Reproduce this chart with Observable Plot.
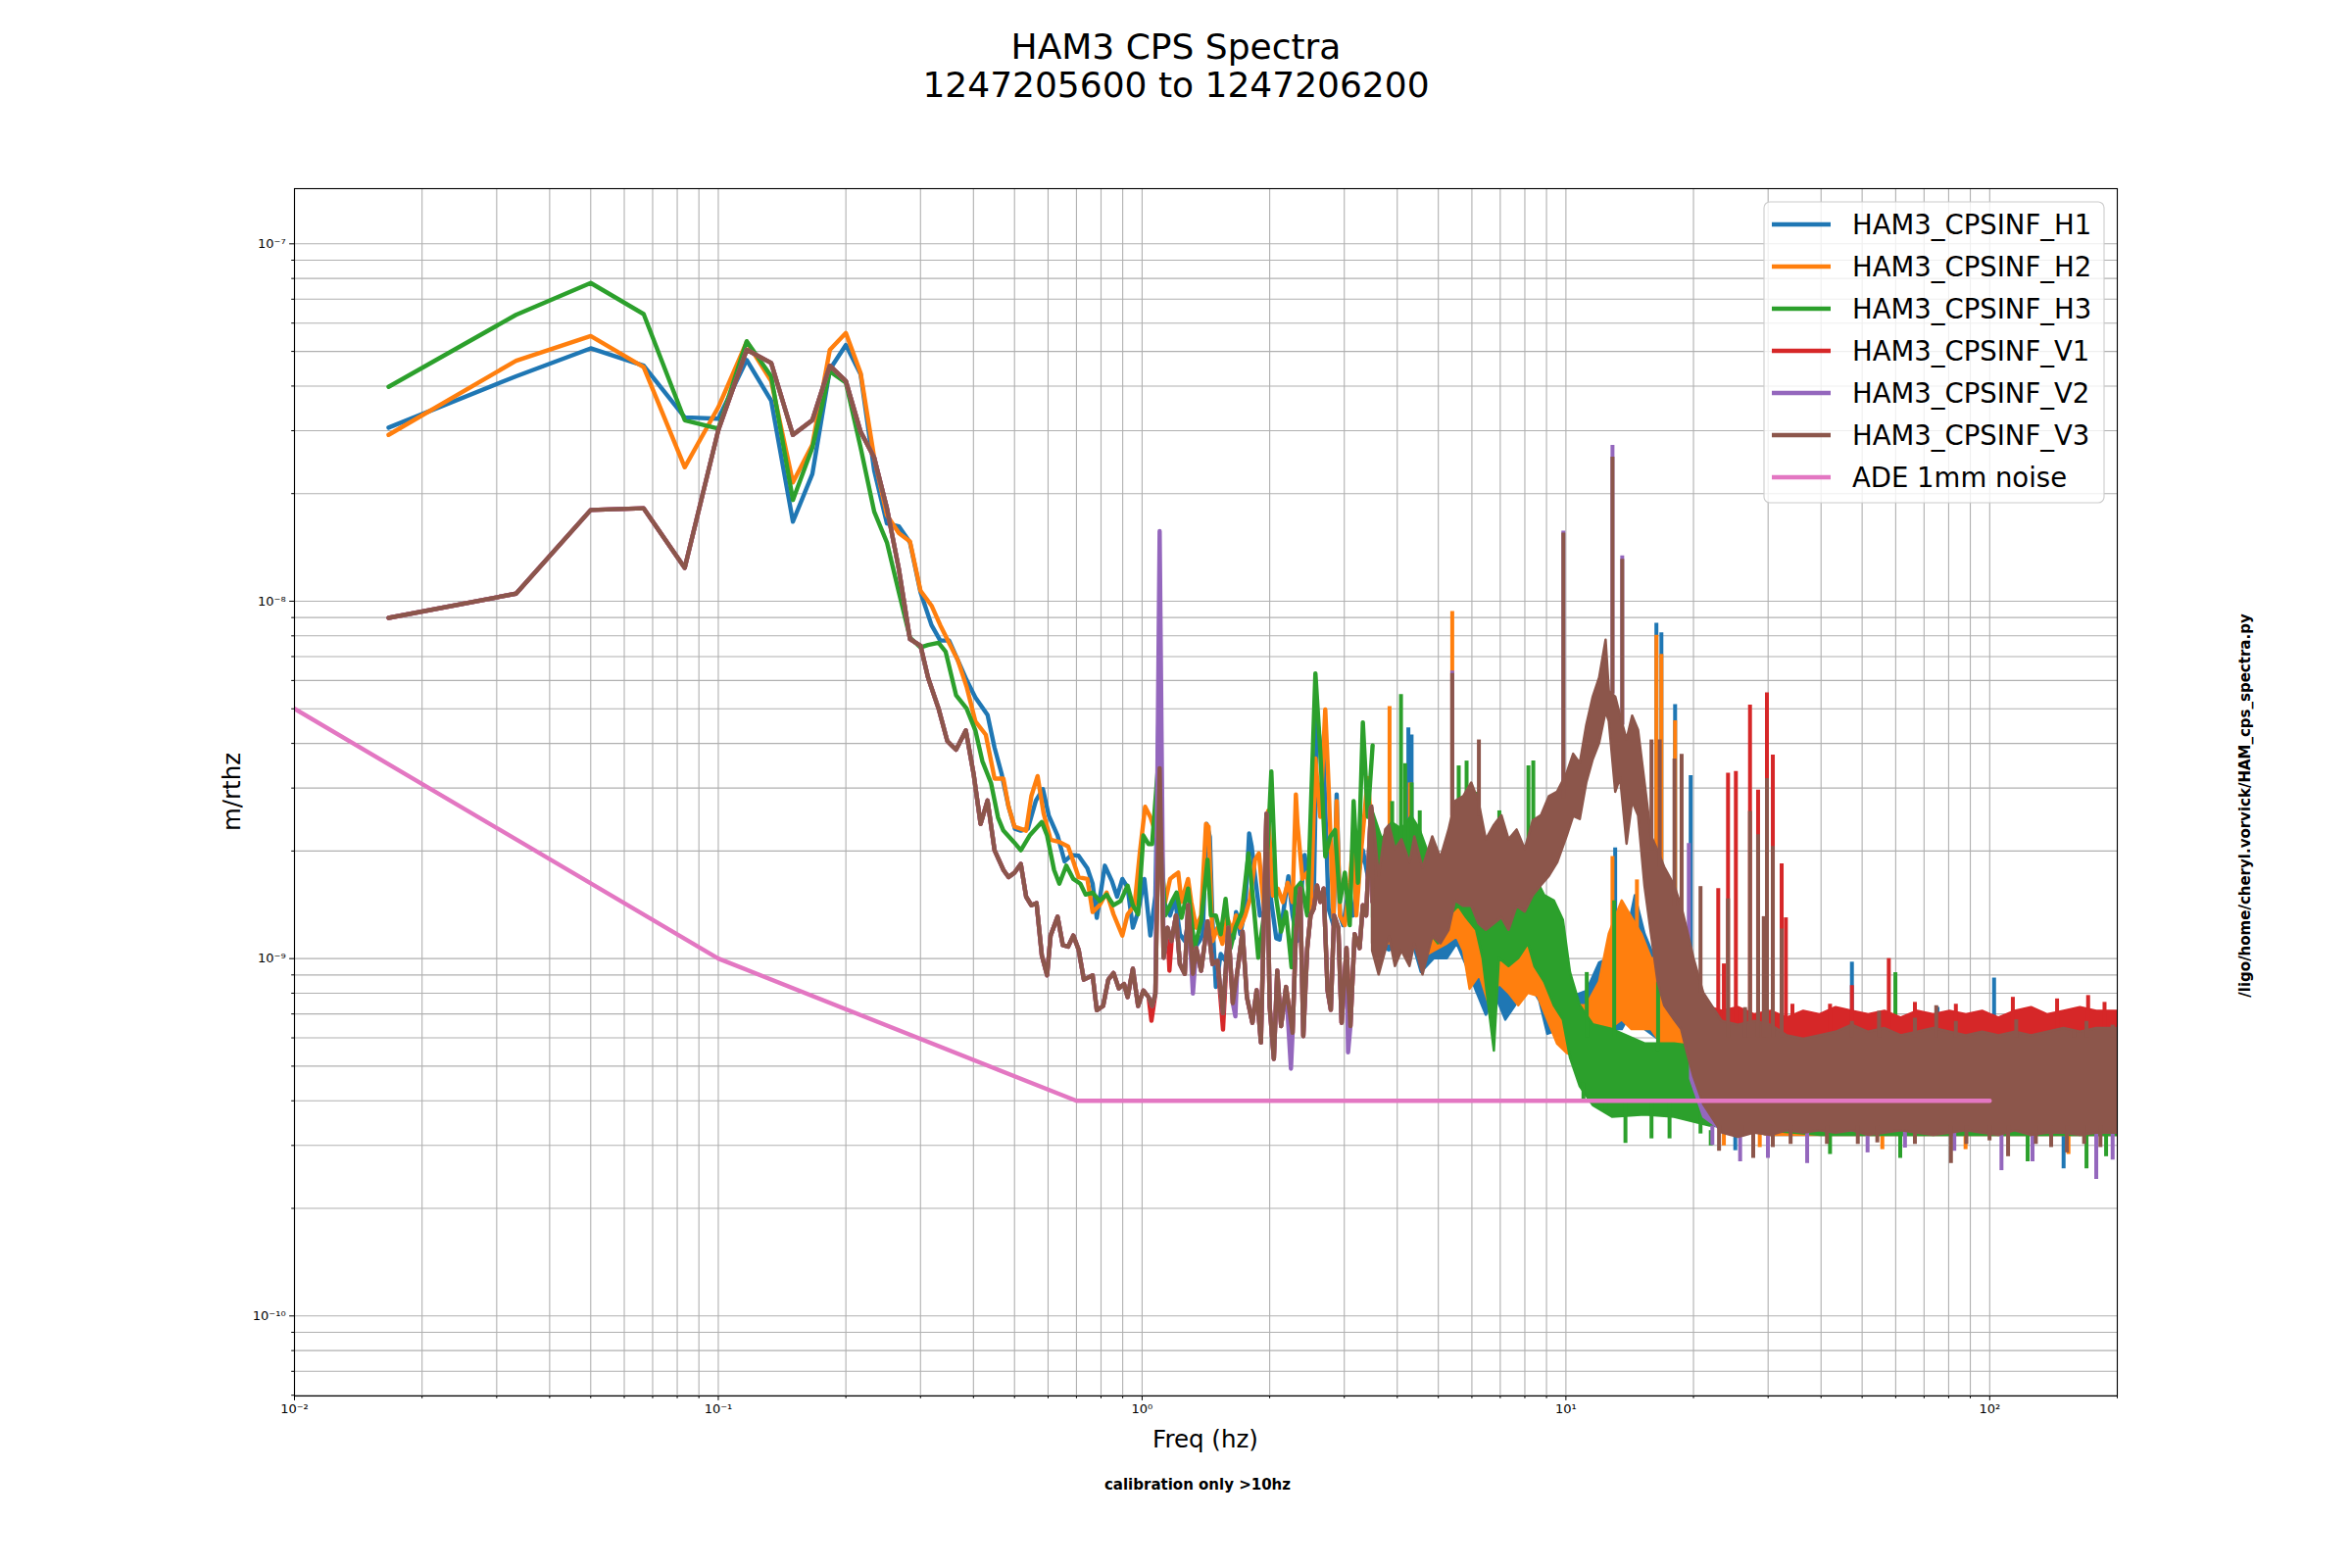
<!DOCTYPE html>
<html><head><meta charset="utf-8">
<script src="https://cdn.jsdelivr.net/npm/d3@7"></script>
<script src="https://cdn.jsdelivr.net/npm/@observablehq/plot@0.6"></script>
<style>
html,body{margin:0;padding:0;background:#fff;}
#wrap{position:relative;width:2400px;height:1600px;font-family:"DejaVu Sans",sans-serif;}
#wrap svg{position:absolute;left:0;top:0;}
</style></head><body><div id="wrap"></div>
<script>
// ---------- DATA ----------
const titleLines = ["HAM3 CPS Spectra", "1247205600 to 1247206200"];
const seriesNames = ["HAM3_CPSINF_H1","HAM3_CPSINF_H2","HAM3_CPSINF_H3","HAM3_CPSINF_V1","HAM3_CPSINF_V2","HAM3_CPSINF_V3","ADE 1mm noise"];
const seriesColors = ["#1f77b4","#ff7f0e","#2ca02c","#d62728","#9467bd","#8c564b","#e377c2"];
const xMajorTicks = [0.01, 0.1, 1, 10, 100];
const yMajorTicks = [1e-10, 1e-9, 1e-8, 1e-7];

// low-frequency bins (1/60 Hz resolution)
const fLow = [0.01667,0.03333,0.05,0.06667,0.08333,0.1,0.1167,0.1333,0.15,0.1667,0.1833,0.2,0.2167,0.2333,0.25,0.2667,0.2833,0.3];
const h1Low = [3.06e-8,4.26e-8,5.10e-8,4.56e-8,3.27e-8,3.24e-8,4.73e-8,3.64e-8,1.67e-8,2.27e-8,4.45e-8,5.21e-8,4.31e-8,2.32e-8,1.65e-8,1.62e-8,1.46e-8,1.06e-8];
const h2Low = [2.92e-8,4.71e-8,5.52e-8,4.52e-8,2.37e-8,3.49e-8,5.32e-8,4.13e-8,2.15e-8,2.74e-8,5.05e-8,5.63e-8,4.35e-8,2.52e-8,1.74e-8,1.55e-8,1.47e-8,1.07e-8];
const h3Low = [3.98e-8,6.33e-8,7.77e-8,6.36e-8,3.21e-8,3.04e-8,5.34e-8,4.26e-8,1.92e-8,2.69e-8,4.40e-8,4.09e-8,2.69e-8,1.78e-8,1.46e-8,1.06e-8,7.91e-9,7.43e-9];
const vLow  = [8.98e-9,1.05e-8,1.80e-8,1.82e-8,1.24e-8,3.01e-8,5.05e-8,4.64e-8,2.92e-8,3.21e-8,4.56e-8,4.13e-8,2.98e-8,2.52e-8,1.82e-8,1.23e-8,7.83e-9,7.51e-9];

// resolved part 0.3 - 3.5 Hz  [freq, value]
const h1Mid = [[0.3185,8.57e-9],[0.334,7.76e-9],[0.3504,7.76e-9],[0.3674,6.84e-9],[0.3853,6.02e-9],[0.4042,5.38e-9],[0.4318,4.81e-9],[0.4486,3.89e-9],[0.4661,3.29e-9],[0.4841,2.66e-9],[0.501,2.31e-9],[0.5174,2.28e-9],[0.5375,2.31e-9],[0.5616,2.77e-9],[0.5834,2.98e-9],[0.6025,2.51e-9],[0.6318,2.21e-9],[0.6563,1.87e-9],[0.6818,1.95e-9],[0.7082,1.94e-9],[0.7427,1.79e-9],[0.7643,1.62e-9],[0.7818,1.30e-9],[0.8168,1.82e-9],[0.8484,1.65e-9],[0.873,1.49e-9],[0.8982,1.67e-9],[0.9243,1.58e-9],[0.9511,1.22e-9],[0.9784,1.35e-9],[1.0125,1.67e-9],[1.0457,1.16e-9],[1.075,1.5e-9],[1.1,6.74e-9],[1.117,1.6e-9],[1.134,1.41e-9],[1.164,1.32e-9],[1.196,1.47e-9],[1.228,1.17e-9],[1.261,1.12e-9],[1.295,1.32e-9],[1.33,1.07e-9],[1.366,1.12e-9],[1.39,1.17e-9],[1.42,2.38e-9],[1.445,2.19e-9],[1.466,1.27e-9],[1.493,8.33e-10],[1.533,1.03e-9],[1.574,9.86e-10],[1.617,1.22e-9],[1.645,1.14e-9],[1.666,1.35e-9],[1.705,1.17e-9],[1.751,1.38e-9],[1.789,2.24e-9],[1.814,2.06e-9],[1.847,1.70e-9],[1.897,1.32e-9],[1.941,1.35e-9],[1.983,1.89e-9],[2.018,1.44e-9],[2.073,1.14e-9],[2.11,1.13e-9],[2.148,1.32e-9],[2.214,1.70e-9],[2.265,1.32e-9],[2.326,1.12e-9],[2.389,1.67e-9],[2.418,1.95e-9],[2.453,1.74e-9],[2.497,1.35e-9],[2.541,1.47e-9],[2.587,4.68e-9],[2.633,3.95e-9],[2.681,3.63e-9],[2.754,1.38e-9],[2.828,1.24e-9],[2.878,2.88e-9],[2.93,1.32e-9],[2.982,1.24e-9],[3.062,1.53e-9],[3.145,1.32e-9],[3.231,1.70e-9],[3.318,2.01e-9],[3.408,1.70e-9],[3.499,2.06e-9]];
const h2Mid = [[0.3185,9.72e-9],[0.334,8.57e-9],[0.3504,7.65e-9],[0.3674,6.84e-9],[0.3853,5.77e-9],[0.4042,4.61e-9],[0.4278,4.23e-9],[0.4486,3.19e-9],[0.4707,3.19e-9],[0.4841,2.66e-9],[0.5,2.34e-9],[0.5325,2.28e-9],[0.5479,2.85e-9],[0.5668,3.24e-9],[0.5855,2.55e-9],[0.6083,2.15e-9],[0.6378,2.12e-9],[0.6689,2.06e-9],[0.6882,1.87e-9],[0.7082,1.69e-9],[0.7427,1.67e-9],[0.7643,1.35e-9],[0.7937,1.41e-9],[0.8247,1.53e-9],[0.8563,1.33e-9],[0.8982,1.16e-9],[0.9243,1.33e-9],[0.96,1.41e-9],[0.9878,1.98e-9],[1.0165,2.66e-9],[1.046,2.49e-9],[1.084,2.19e-9],[1.1,3.2e-9],[1.117,1.7e-9],[1.134,1.44e-9],[1.164,1.67e-9],[1.185,1.70e-9],[1.217,1.74e-9],[1.239,1.44e-9],[1.284,1.67e-9],[1.306,1.44e-9],[1.342,1.22e-9],[1.378,1.32e-9],[1.415,2.38e-9],[1.435,2.34e-9],[1.466,1.12e-9],[1.506,1.22e-9],[1.547,1.10e-9],[1.588,1.30e-9],[1.631,1.19e-9],[1.666,1.32e-9],[1.705,1.22e-9],[1.751,1.32e-9],[1.798,1.47e-9],[1.847,1.89e-9],[1.887,1.97e-9],[1.913,1.63e-9],[1.948,1.32e-9],[1.983,2.59e-9],[2.035,1.50e-9],[2.091,1.57e-9],[2.148,1.44e-9],[2.206,1.63e-9],[2.265,1.44e-9],[2.306,2.88e-9],[2.326,2.38e-9],[2.389,1.67e-9],[2.453,1.74e-9],[2.497,1.32e-9],[2.564,3.63e-9],[2.633,2.49e-9],[2.705,4.98e-9],[2.754,3.07e-9],[2.828,1.30e-9],[2.878,2.76e-9],[2.93,1.32e-9],[3.009,1.24e-9],[3.09,1.63e-9],[3.145,2.10e-9],[3.202,1.32e-9],[3.289,2.01e-9],[3.408,3.20e-9],[3.499,2.10e-9]];
const h3Mid = [[0.3126,7.54e-9],[0.3309,7.65e-9],[0.3438,7.23e-9],[0.3639,5.46e-9],[0.3853,5.01e-9],[0.4042,4.35e-9],[0.4198,3.57e-9],[0.4401,3.10e-9],[0.4572,2.48e-9],[0.4707,2.28e-9],[0.4981,2.12e-9],[0.5174,2.01e-9],[0.5428,2.21e-9],[0.58,2.41e-9],[0.5968,2.21e-9],[0.6199,1.77e-9],[0.6378,1.62e-9],[0.6625,1.82e-9],[0.6882,1.67e-9],[0.715,1.62e-9],[0.7357,1.51e-9],[0.7643,1.53e-9],[0.7937,1.45e-9],[0.8247,1.51e-9],[0.8563,1.41e-9],[0.8897,1.45e-9],[0.9243,1.60e-9],[0.9511,1.41e-9],[0.9784,1.33e-9],[1.0068,2.21e-9],[1.0359,2.09e-9],[1.0558,2.09e-9],[1.1,3.95e-9],[1.117,1.8e-9],[1.134,1.32e-9],[1.174,1.44e-9],[1.206,1.53e-9],[1.239,1.30e-9],[1.284,1.57e-9],[1.33,1.07e-9],[1.378,1.27e-9],[1.427,1.89e-9],[1.453,1.32e-9],[1.493,1.32e-9],[1.533,1.17e-9],[1.574,1.47e-9],[1.617,1.07e-9],[1.66,1.22e-9],[1.72,1.35e-9],[1.782,1.97e-9],[1.83,1.44e-9],[1.88,1.006e-9],[1.948,1.38e-9],[2.018,3.34e-9],[2.073,1.47e-9],[2.128,1.19e-9],[2.186,1.35e-9],[2.253,9.45e-10],[2.306,1.57e-9],[2.368,1.63e-9],[2.453,1.32e-9],[2.564,6.28e-9],[2.633,3.79e-9],[2.705,1.93e-9],[2.778,2.19e-9],[2.853,2.29e-9],[2.93,1.44e-9],[3.009,1.74e-9],[3.09,1.24e-9],[3.156,2.76e-9],[3.231,1.63e-9],[3.318,4.58e-9],[3.408,2.49e-9],[3.499,3.95e-9]];
const v3Mid = [[0.3126,6.11e-9],[0.3309,5.01e-9],[0.3471,4.06e-9],[0.3639,3.84e-9],[0.3838,4.35e-9],[0.4003,3.29e-9],[0.4158,2.38e-9],[0.4318,2.77e-9],[0.4486,2.01e-9],[0.4707,1.77e-9],[0.4841,1.69e-9],[0.5,1.74e-9],[0.5174,1.84e-9],[0.5325,1.49e-9],[0.5479,1.41e-9],[0.5636,1.43e-9],[0.58,1.02e-9],[0.5968,8.98e-10],[0.6083,1.16e-9],[0.6318,1.31e-9],[0.6501,1.09e-9],[0.6689,1.08e-9],[0.6882,1.16e-9],[0.7082,1.06e-9],[0.7287,8.73e-10],[0.7643,8.98e-10],[0.7818,7.17e-10],[0.8091,7.37e-10],[0.8323,8.73e-10],[0.8563,9.11e-10],[0.8812,8.25e-10],[0.9067,8.49e-10],[0.9243,7.80e-10],[0.9511,9.37e-10],[0.9784,7.37e-10],[1.0068,8.14e-10],[1.0359,7.80e-10],[1.0558,7.37e-10],[1.075,7.98e-10],[1.1,3.41e-9],[1.124,1.006e-9],[1.148,1.22e-9],[1.174,1.12e-9],[1.202,1.32e-9],[1.228,9.65e-10],[1.261,9.06e-10],[1.284,1.41e-9],[1.318,9.06e-10],[1.342,1.07e-9],[1.378,9.25e-10],[1.427,1.27e-9],[1.466,9.65e-10],[1.506,9.86e-10],[1.552,7.04e-10],[1.597,1.22e-9],[1.637,7.50e-10],[1.675,9.06e-10],[1.726,1.19e-9],[1.767,7.81e-10],[1.821,6.61e-10],[1.863,8.15e-10],[1.907,5.82e-10],[1.965,2.54e-9],[2.0,7.34e-10],[2.046,5.24e-10],[2.084,9.25e-10],[2.128,6.47e-10],[2.186,8.33e-10],[2.265,6.20e-10],[2.306,1.17e-9],[2.36,1.57e-9],[2.401,6.07e-10],[2.453,1.07e-9],[2.497,1.32e-9],[2.541,1.38e-9],[2.587,1.60e-9],[2.633,1.44e-9],[2.681,1.57e-9],[2.739,8.15e-10],[2.788,7.19e-10],[2.838,1.32e-9],[2.904,1.22e-9],[2.956,6.61e-10],[3.036,1.07e-9],[3.101,6.47e-10],[3.173,1.17e-9],[3.26,1.07e-9],[3.318,1.41e-9],[3.378,1.32e-9],[3.469,2.65e-9],[3.499,1.44e-9]];
// where V1 / V2 differ from V3 in the resolved part
const v1Mods = [[1.052,6.7e-10],[1.1,3.78e-9],[1.16,9.25e-10],[1.552,6.33e-10]];
const v2Mods = [[1.1,1.57e-8],[1.318,7.98e-10],[1.66,6.89e-10],[2.245,4.92e-10],[3.062,5.47e-10]];

// dense (unresolved) part: [freq, lower envelope, upper envelope]
const h1Band = [[3.499,1.1e-9,2.06e-9],[3.836,1.05e-9,2.0e-9],[4.103,1.2e-9,2.0e-9],[4.263,1.2e-9,2.2e-9],[4.559,9.14e-10,1.85e-9],[4.894,1.0e-9,1.8e-9],[5.252,1.0e-9,1.59e-9],[5.537,1.1e-9,1.59e-9],[5.839,9.5e-10,1.36e-9],[6.156,8.09e-10,1.0e-9],[6.49,6.94e-10,1.0e-9],[6.843,7.84e-10,1.06e-9],[7.213,6.73e-10,1.06e-9],[7.604,7.38e-10,1.0e-9],[8.158,8.6e-10,1.0e-9],[8.678,7.6e-10,1.0e-9],[9.065,6.14e-10,8.6e-10],[9.725,6.33e-10,8.6e-10],[10.43,5.77e-10,7.84e-10],[11.2,6.33e-10,8.09e-10],[12.01,6.73e-10,9.72e-10],[12.66,6.33e-10,1.0e-9],[13.58,6.33e-10,1.0e-9],[14.58,7.38e-10,1.5e-9],[15.37,6.33e-10,1.17e-9],[17.1,5.77e-10,8.6e-10],[18.28,5.43e-10,8.6e-10],[20.05,4.0e-10,6.73e-10],[21.15,3.6e-10,6.0e-10],[30,3.2e-10,5.5e-10],[60,3.2e-10,5.5e-10],[100,3.2e-10,5.5e-10],[200,3.2e-10,5.5e-10]];
const h2Band = [[3.499,1.1e-9,2.1e-9],[3.836,1.1e-9,2.0e-9],[4.103,1.2e-9,2.0e-9],[4.286,1.2e-9,2.2e-9],[4.559,1.0e-9,1.69e-9],[4.894,1.05e-9,1.8e-9],[5.252,1.1e-9,1.79e-9],[5.537,1.15e-9,1.85e-9],[5.74,1.05e-9,1.79e-9],[5.942,8.21e-10,1.59e-9],[6.266,9.0e-10,1.36e-9],[6.607,7.38e-10,1.17e-9],[6.965,8.5e-10,1.24e-9],[7.342,8.0e-10,1.17e-9],[7.739,7.38e-10,1.36e-9],[8.158,8.0e-10,1.24e-9],[8.6,7.84e-10,1.36e-9],[9.065,6.73e-10,1.0e-9],[9.556,5.77e-10,1.0e-9],[10.07,5.43e-10,8.6e-10],[10.62,5.27e-10,7.38e-10],[11.2,5.77e-10,7.38e-10],[12.01,5.95e-10,8.6e-10],[12.66,6.33e-10,1.17e-9],[13.58,6.73e-10,1.45e-9],[14.32,6.33e-10,1.3e-9],[15.1,6.33e-10,1.17e-9],[15.92,6.33e-10,1.0e-9],[17.1,5.6e-10,1.0e-9],[18.28,5.43e-10,1.0e-9],[19.7,4.38e-10,7.38e-10],[21.15,3.6e-10,6.0e-10],[30,3.2e-10,5.5e-10],[60,3.2e-10,5.5e-10],[100,3.2e-10,5.5e-10],[200,3.2e-10,5.5e-10]];
const h3Band = [[3.499,1.3e-9,2.6e-9],[3.69,1.2e-9,2.15e-9],[3.891,1.3e-9,2.4e-9],[4.103,1.3e-9,2.3e-9],[4.324,1.3e-9,2.5e-9],[4.52,1.25e-9,2.3e-9],[4.72,1.2e-9,2.0e-9],[5.0,1.1e-9,1.85e-9],[5.25,1.3e-9,2.1e-9],[5.586,1.4e-9,2.4e-9],[5.83,1.3e-9,2.4e-9],[6.156,1.2e-9,2.2e-9],[6.377,1.0e-9,1.7e-9],[6.78,5.51e-10,1.5e-9],[6.965,1.0e-9,2.0e-9],[7.342,9.5e-10,1.6e-9],[7.739,1.0e-9,1.8e-9],[8.158,1.1e-9,1.7e-9],[8.45,9.5e-10,1.7e-9],[8.907,8.6e-10,1.5e-9],[9.389,7.38e-10,1.45e-9],[9.862,6.73e-10,1.28e-9],[10.25,5.27e-10,9.14e-10],[10.81,4.38e-10,7.38e-10],[11.6,3.88e-10,6.53e-10],[12.88,3.6e-10,6.33e-10],[15.37,3.65e-10,5.77e-10],[18.04,3.6e-10,5.77e-10],[21.9,3.4e-10,5.6e-10],[40,3.2e-10,5.5e-10],[80,3.2e-10,5.5e-10],[200,3.2e-10,5.5e-10]];
const v1Band = [[19.7,5.5e-10,8.0e-10],[21.15,4.5e-10,7.4e-10],[23.37,4.2e-10,7.12e-10],[25.53,4.2e-10,7.29e-10],[27.9,4.2e-10,6.96e-10],[30.48,4.2e-10,7.12e-10],[33.3,4.2e-10,6.81e-10],[36.4,4.2e-10,7.12e-10],[39.7,4.2e-10,6.96e-10],[43.4,4.2e-10,7.29e-10],[47.4,4.2e-10,7.12e-10],[51.8,4.2e-10,6.96e-10],[56.6,4.2e-10,7.12e-10],[61.8,4.2e-10,6.81e-10],[67.6,4.2e-10,7.12e-10],[73.8,4.2e-10,6.96e-10],[80.6,4.2e-10,7.12e-10],[88.1,4.2e-10,6.96e-10],[96.2,4.2e-10,7.12e-10],[105.1,4.2e-10,6.81e-10],[114.9,4.2e-10,7.12e-10],[125.5,4.2e-10,7.29e-10],[137.1,4.2e-10,6.96e-10],[149.8,4.2e-10,7.12e-10],[163.7,4.2e-10,7.29e-10],[178.8,4.2e-10,7.12e-10],[200,4.2e-10,7.12e-10]];
const v2Band = [[19.7,4.6e-10,9.0e-10],[21.15,3.6e-10,7.0e-10],[23.37,3.3e-10,6.0e-10],[27.9,3.35e-10,5.9e-10],[33.3,3.3e-10,5.8e-10],[39.7,3.35e-10,5.9e-10],[47.4,3.3e-10,5.9e-10],[56.6,3.35e-10,5.8e-10],[67.6,3.3e-10,5.9e-10],[80.6,3.35e-10,5.8e-10],[96.2,3.3e-10,5.9e-10],[114.9,3.35e-10,5.8e-10],[137.1,3.3e-10,5.9e-10],[163.7,3.35e-10,5.8e-10],[200,3.3e-10,5.9e-10]];
const v3Band = [[3.499,1.05e-9,2.67e-9],[3.625,9.0e-10,1.7e-9],[3.756,1.05e-9,2.29e-9],[3.836,1.15e-9,2.36e-9],[3.96,9.5e-10,2.02e-9],[4.103,1.05e-9,2.15e-9],[4.286,9.5e-10,1.85e-9],[4.401,1.1e-9,2.19e-9],[4.6,9.0e-10,1.79e-9],[4.851,1.15e-9,2.19e-9],[5.07,1.1e-9,1.91e-9],[5.3,1.2e-9,2.29e-9],[5.49,1.45e-9,2.75e-9],[5.74,1.4e-9,2.84e-9],[5.995,1.4e-9,3.10e-9],[6.233,1.25e-9,2.75e-9],[6.49,1.2e-9,2.15e-9],[6.78,1.25e-9,2.36e-9],[7.064,1.3e-9,2.51e-9],[7.342,1.2e-9,2.15e-9],[7.671,1.4e-9,2.29e-9],[8.016,1.35e-9,2.02e-9],[8.376,1.5e-9,2.43e-9],[8.754,1.6e-9,2.51e-9],[9.145,1.7e-9,2.84e-9],[9.556,1.85e-9,2.92e-9],[10.07,2.2e-9,3.30e-9],[10.43,2.5e-9,3.73e-9],[10.81,2.45e-9,3.51e-9],[11.2,3.1e-9,4.49e-9],[11.6,3.6e-9,5.39e-9],[12.01,4.0e-9,6.09e-9],[12.44,4.9e-9,7.78e-9],[12.66,4.6e-9,5.6e-9],[13.11,2.92e-9,5.39e-9],[13.46,3.20e-9,4.77e-9],[13.94,2.09e-9,4.09e-9],[14.37,2.75e-9,4.77e-9],[14.84,2.51e-9,4.35e-9],[15.37,1.59e-9,3.10e-9],[15.92,1.17e-9,2.2e-9],[16.5,8.6e-10,2.0e-9],[17.1,7.38e-10,1.8e-9],[18.04,6.73e-10,1.6e-9],[18.75,6.33e-10,1.4e-9],[19.36,5.43e-10,1.2e-9],[20.05,4.66e-10,1.0e-9],[21.15,3.9e-10,8.0e-10],[23.37,3.25e-10,6.67e-10],[25.53,3.16e-10,6.51e-10],[27.9,3.25e-10,6.67e-10],[30.48,3.2e-10,6.51e-10],[33.3,3.3e-10,6.08e-10],[36.4,3.25e-10,5.95e-10],[39.7,3.3e-10,6.08e-10],[43.4,3.25e-10,6.22e-10],[47.4,3.3e-10,6.51e-10],[51.8,3.2e-10,6.22e-10],[56.6,3.25e-10,6.37e-10],[61.8,3.3e-10,6.08e-10],[67.6,3.25e-10,6.22e-10],[73.8,3.2e-10,6.37e-10],[80.6,3.25e-10,6.22e-10],[88.1,3.3e-10,6.08e-10],[96.2,3.25e-10,6.22e-10],[105.1,3.2e-10,6.08e-10],[114.9,3.3e-10,6.22e-10],[125.5,3.2e-10,6.08e-10],[137.1,3.25e-10,6.22e-10],[149.8,3.25e-10,6.37e-10],[163.7,3.2e-10,6.22e-10],[178.8,3.25e-10,6.37e-10],[200,3.25e-10,6.37e-10]];

// narrow peaks / dips inside the dense part: [freq, from, to]
const h1Spikes = [[4.249,1.8e-9,4.42e-9],[4.324,1.8e-9,4.22e-9],[13.07,1.0e-9,2.04e-9],[16.35,1.0e-9,8.67e-9],[16.8,1.0e-9,8.15e-9],[18.1,9e-10,5.14e-9],[19.7,6e-10,3.25e-9],[47.3,5e-10,9.77e-10],[75.3,5e-10,7.3e-10],[102.4,5e-10,8.82e-10],[25.1,3.3e-10,2.9e-10],[149.4,3.3e-10,2.58e-10]];
const h2Spikes = [[3.836,1.8e-9,5.07e-9],[4.286,1.8e-9,3.10e-9],[5.393,1.7e-9,9.35e-9],[12.88,1.1e-9,1.93e-9],[14.71,1.2e-9,1.66e-9],[16.35,1.0e-9,8.03e-9],[16.8,1.0e-9,7.10e-9],[18.1,9e-10,4.63e-9],[23.59,3.3e-10,2.99e-10],[28.67,3.3e-10,2.96e-10],[55.8,3.3e-10,2.92e-10],[87.7,3.3e-10,2.92e-10],[153.4,3.3e-10,2.83e-10]];
const h3Spikes = [[3.891,1.9e-9,2.75e-9],[4.082,1.9e-9,5.48e-9],[4.175,1.9e-9,3.51e-9],[4.324,1.9e-9,3.10e-9],[4.52,1.9e-9,2.59e-9],[5.586,2.0e-9,3.46e-9],[5.83,2.0e-9,3.57e-9],[6.156,1.8e-9,2.92e-9],[6.965,1.6e-9,2.59e-9],[8.158,1.5e-9,3.46e-9],[8.376,1.5e-9,3.57e-9],[11.2,6e-10,9.14e-10],[13.0,6e-10,1.45e-9],[16.5,5.5e-10,8.6e-10],[59.9,5e-10,9.13e-10],[11.0,4.5e-10,4.0e-10],[12.44,4e-10,3.76e-10],[13.82,4e-10,3.04e-10],[15.92,4e-10,3.13e-10],[17.56,4e-10,3.13e-10],[20.78,4e-10,3.23e-10],[21.97,3.3e-10,2.99e-10],[42.0,3.3e-10,2.83e-10],[61.5,3.3e-10,2.76e-10],[122.9,3.3e-10,2.70e-10],[169.2,3.3e-10,2.58e-10],[188.2,3.3e-10,2.79e-10]];
const v1Spikes = [[22.88,6e-10,1.57e-9],[23.59,6e-10,9.66e-10],[24.13,6e-10,3.30e-9],[25.18,6e-10,3.34e-9],[27.19,6e-10,5.12e-9],[28.41,6e-10,2.96e-9],[29.81,6e-10,5.54e-9],[30.78,6e-10,3.71e-9],[32.29,6e-10,1.84e-9],[33.04,6e-10,1.30e-9],[34.24,6e-10,7.45e-10],[42.0,6e-10,7.45e-10],[47.3,6e-10,8.4e-10],[57.8,6e-10,1.0e-9],[66.6,6e-10,7.54e-10],[83.2,6e-10,7.45e-10],[113.4,6e-10,7.79e-10],[144.2,6e-10,7.71e-10],[170.7,6e-10,7.88e-10],[186.6,6e-10,7.54e-10]];
const v2Spikes = [[5.393,2.5e-9,6.38e-9],[9.862,2.8e-9,1.57e-8],[12.88,5.5e-9,2.73e-8],[13.58,4.5e-9,1.34e-8],[19.5,8e-10,2.1e-9],[22.16,3.4e-10,3.0e-10],[25.77,3.4e-10,2.70e-10],[29.97,3.4e-10,2.76e-10],[37.09,3.4e-10,2.67e-10],[51.5,3.4e-10,2.86e-10],[63.1,3.4e-10,2.95e-10],[82.5,3.4e-10,2.89e-10],[106.6,3.4e-10,2.55e-10],[126.2,3.4e-10,2.70e-10],[178.4,3.4e-10,2.41e-10],[195.0,3.4e-10,2.73e-10]];
const v3Spikes = [[5.393,2.5e-9,6.28e-9],[6.233,2.5e-9,4.09e-9],[9.862,2.8e-9,1.55e-8],[12.88,5.5e-9,2.53e-8],[13.58,4.5e-9,1.31e-8],[15.92,2.0e-9,4.09e-9],[16.65,1.8e-9,4.09e-9],[18.04,1.4e-9,3.62e-9],[18.75,1.3e-9,3.73e-9],[20.78,8e-10,1.59e-9],[24.13,6e-10,1.47e-9],[26.47,6e-10,7.29e-10],[27.19,6e-10,2.58e-9],[28.41,6e-10,2.22e-9],[29.3,6e-10,1.31e-9],[29.81,6e-10,3.19e-9],[30.78,6e-10,2.06e-9],[32.29,6e-10,1.21e-9],[47.3,6e-10,6.67e-10],[54.8,6e-10,7.12e-10],[66.6,6e-10,6.81e-10],[74.8,6e-10,7.38e-10],[83.2,6e-10,6.67e-10],[115.5,6e-10,6.74e-10],[158.5,6e-10,6.29e-10],[169.2,6e-10,6.67e-10],[195,6e-10,6.51e-10],[22.98,3.4e-10,2.89e-10],[25.99,3.4e-10,3.16e-10],[27.67,3.4e-10,2.76e-10],[30.78,3.4e-10,2.96e-10],[33.9,3.4e-10,3.02e-10],[41.3,3.4e-10,3.02e-10],[48.84,3.4e-10,3.02e-10],[54.3,3.4e-10,3.05e-10],[66.6,3.4e-10,3.02e-10],[81.0,3.4e-10,2.67e-10],[88.1,3.4e-10,3.02e-10],[99.9,3.4e-10,3.09e-10],[110.5,3.4e-10,2.79e-10],[128.5,3.4e-10,3.02e-10],[139.6,3.4e-10,2.96e-10],[152.1,3.4e-10,2.86e-10],[167.0,3.4e-10,3.02e-10],[182.5,3.4e-10,2.96e-10]];

const adeNoise = [[0.01,5e-9],[0.1,1e-9],[0.7,4e-10],[100,4e-10]];

// ---------- build tables ----------
const joinLow = (vals, mid) => fLow.map((f, i) => [f, vals[i]]).concat(mid);
const withMods = (base, mods) =>
  base.filter(p => !mods.some(m => Math.abs(p[0] - m[0]) / m[0] < 0.008)).concat(mods).sort((a, b) => a[0] - b[0]);
const vLine = joinLow(vLow, v3Mid);
const series = [
  {line: joinLow(h1Low, h1Mid), band: h1Band, spikes: h1Spikes},
  {line: joinLow(h2Low, h2Mid), band: h2Band, spikes: h2Spikes},
  {line: joinLow(h3Low, h3Mid), band: h3Band, spikes: h3Spikes},
  {line: withMods(vLine, v1Mods), band: v1Band, spikes: v1Spikes},
  {line: withMods(vLine, v2Mods), band: v2Band, spikes: v2Spikes},
  {line: vLine, band: v3Band, spikes: v3Spikes}
];

const xMinor = [], yMinor = [];
for (let e = -2; e <= 2; e++) for (let m = 2; m <= 9; m++) { const v = m * Math.pow(10, e); if (v <= 200) xMinor.push(v); }
for (let e = -11; e <= -8; e++) for (let m = 2; m <= 9; m++) { const v = m * Math.pow(10, e); if (v >= 5.97e-11 && v <= 1.427e-7) yMinor.push(v); }
const supMap = {"-":"\u207B","0":"\u2070","1":"\u00B9","2":"\u00B2","3":"\u00B3","4":"\u2074","5":"\u2075","6":"\u2076","7":"\u2077","8":"\u2078","9":"\u2079"};
const fmtPow = v => "10" + String(Math.round(Math.log10(v))).split("").map(c => supMap[c]).join("");

const LW = 4.4;
const gridStyle = {stroke: "#b0b0b0", strokeOpacity: 1, strokeWidth: 1.1};
const marks = [
  Plot.gridX(xMajorTicks.concat(xMinor), gridStyle),
  Plot.gridY(yMajorTicks.concat(yMinor), gridStyle)
];
series.forEach((s, i) => {
  const c = seriesColors[i];
  marks.push(Plot.areaY(s.band, {x: d => d[0], y1: d => d[1], y2: d => d[2], fill: c, fillOpacity: 1, stroke: c, strokeWidth: 2.5, strokeLinejoin: "round", clip: true}));
  marks.push(Plot.line(s.line, {x: d => d[0], y: d => d[1], stroke: c, strokeWidth: LW, strokeLinejoin: "round", clip: true}));
  marks.push(Plot.ruleX(s.spikes, {x: d => d[0], y1: d => d[1], y2: d => d[2], stroke: c, strokeWidth: 4, clip: true}));
});
marks.push(Plot.line(adeNoise, {x: d => d[0], y: d => d[1], stroke: seriesColors[6], strokeWidth: LW, clip: true}));
marks.push(Plot.frame({stroke: "black", strokeWidth: 1.1}));
marks.push(Plot.axisX(xMajorTicks, {anchor: "bottom", tickSize: 4.9, tickPadding: 3, tickFormat: fmtPow, fontSize: 13, label: null}));
marks.push(Plot.axisX(xMinor, {anchor: "bottom", tickSize: 2.8, tickFormat: () => "", label: null}));
marks.push(Plot.axisY(yMajorTicks, {anchor: "left", tickSize: 4.9, tickPadding: 4, tickFormat: fmtPow, fontSize: 13, label: null}));
marks.push(Plot.axisY(yMinor, {anchor: "left", tickSize: 2.8, tickFormat: () => "", label: null}));

const chart = Plot.plot({
  width: 2400, height: 1600,
  marginLeft: 300, marginRight: 240, marginTop: 192, marginBottom: 176,
  x: {type: "log", domain: [0.01, 200]},
  y: {type: "log", domain: [5.97e-11, 1.427e-7]},
  style: {fontFamily: "DejaVu Sans", background: "white", color: "black"},
  marks
});
document.getElementById("wrap").appendChild(chart);

// ---------- titles, labels, legend ----------
const ov = d3.select("#wrap").append("svg").attr("width", 2400).attr("height", 1600)
  .style("font-family", "DejaVu Sans").style("pointer-events", "none");
ov.append("text").attr("x", 1200).attr("y", 60).attr("text-anchor", "middle").attr("font-size", 36).text(titleLines[0]);
ov.append("text").attr("x", 1200).attr("y", 99).attr("text-anchor", "middle").attr("font-size", 36).text(titleLines[1]);
ov.append("text").attr("x", 1230).attr("y", 1477).attr("text-anchor", "middle").attr("font-size", 24.5).text("Freq (hz)");
ov.append("text").attr("transform", "translate(245,808) rotate(-90)").attr("text-anchor", "middle").attr("font-size", 24.5).text("m/rthz");
ov.append("text").attr("x", 1222).attr("y", 1520).attr("text-anchor", "middle").attr("font-size", 15).attr("font-weight", "bold").text("calibration only >10hz");
ov.append("text").attr("transform", "translate(2296,822) rotate(-90)").attr("text-anchor", "middle").attr("font-size", 15).attr("font-weight", "bold").text("/ligo/home/cheryl.vorvick/HAM_cps_spectra.py");

const lg = ov.append("g");
lg.append("rect").attr("x", 1800).attr("y", 206).attr("width", 347).attr("height", 307).attr("rx", 6)
  .attr("fill", "white").attr("fill-opacity", 0.8).attr("stroke", "#cccccc").attr("stroke-width", 1.1);
seriesNames.forEach((n, i) => {
  const y = 229 + 43 * i;
  lg.append("line").attr("x1", 1808).attr("x2", 1868).attr("y1", y).attr("y2", y)
    .attr("stroke", seriesColors[i]).attr("stroke-width", LW);
  lg.append("text").attr("x", 1890).attr("y", y + 10).attr("font-size", 27.5).text(n);
});
</script></body></html>
